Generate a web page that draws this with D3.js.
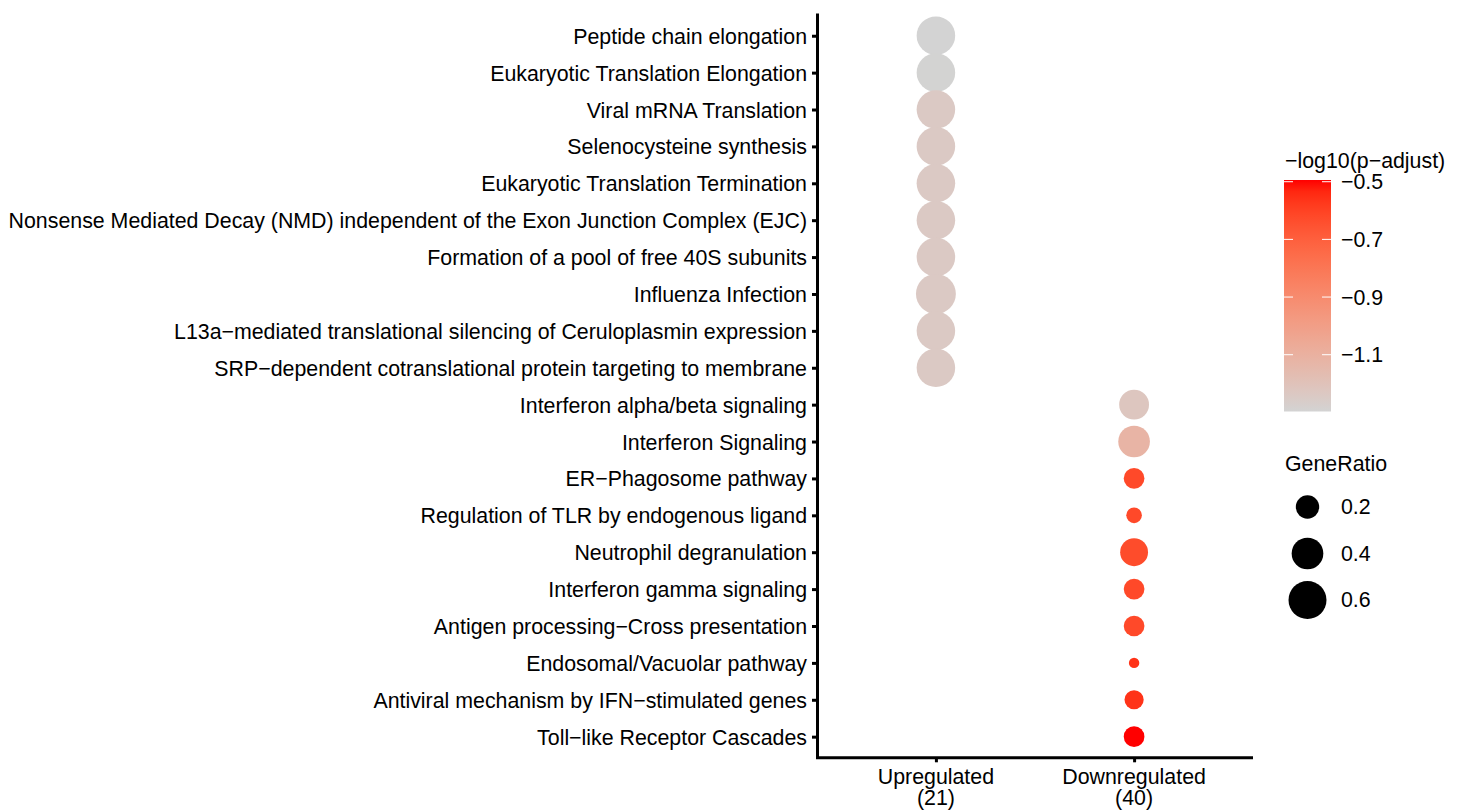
<!DOCTYPE html>
<html>
<head>
<meta charset="utf-8">
<script src="https://cdn.jsdelivr.net/npm/d3@7"></script>
<style>
  html, body { margin: 0; padding: 0; background: #fff; }
  svg text { font-family: "Liberation Sans", Arial, sans-serif; fill: #000; }
</style>
</head>
<body>
<svg id="chart" width="1463" height="810"></svg>
<script>
// Enriched pathways, top to bottom
const pathways = [
  "Peptide chain elongation",
  "Eukaryotic Translation Elongation",
  "Viral mRNA Translation",
  "Selenocysteine synthesis",
  "Eukaryotic Translation Termination",
  "Nonsense Mediated Decay (NMD) independent of the Exon Junction Complex (EJC)",
  "Formation of a pool of free 40S subunits",
  "Influenza Infection",
  "L13a\u2212mediated translational silencing of Ceruloplasmin expression",
  "SRP\u2212dependent cotranslational protein targeting to membrane",
  "Interferon alpha/beta signaling",
  "Interferon Signaling",
  "ER\u2212Phagosome pathway",
  "Regulation of TLR by endogenous ligand",
  "Neutrophil degranulation",
  "Interferon gamma signaling",
  "Antigen processing\u2212Cross presentation",
  "Endosomal/Vacuolar pathway",
  "Antiviral mechanism by IFN\u2212stimulated genes",
  "Toll\u2212like Receptor Cascades"
];
// Group each pathway belongs to
const groups = ["Up","Up","Up","Up","Up","Up","Up","Up","Up","Up",
                "Down","Down","Down","Down","Down","Down","Down","Down","Down","Down"];
const groupKeys = ["Up", "Down"];
const groupLabels = [["Upregulated", "(21)"], ["Downregulated", "(40)"]];
// Gene ratio per pathway
const geneRatio = [0.619, 0.619, 0.619, 0.619, 0.619, 0.619, 0.619, 0.667, 0.619, 0.619,
                   0.35, 0.40, 0.15, 0.075, 0.30, 0.15, 0.15, 0.025, 0.125, 0.15];
// -log10(p-adjust) per pathway
const logP = [-1.297, -1.295, -1.24, -1.24, -1.24, -1.24, -1.24, -1.24, -1.24, -1.24,
              -1.22, -1.12, -0.62, -0.62, -0.63, -0.62, -0.62, -0.56, -0.56, -0.494];
const colorDomain = [-1.297, -0.494];
const colorTicks = [-1.1, -0.9, -0.7, -0.5];
const sizeTicks = [0.2, 0.4, 0.6];

const rows = pathways.map((p, i) => ({ pathway: p, group: groups[i], ratio: geneRatio[i], logP: logP[i] }));

const svg = d3.select("#chart");
const panel = { left: 817, right: 1253, top: 13.6, bottom: 758.8 };
const fontSize = 21.35;
const minus = s => s.replace("-", "\u2212");

// Discrete scales with ggplot-style 0.6 expansion
const y = d3.scalePoint().domain(pathways).range([panel.top, panel.bottom]).padding(0.6);
const x = d3.scalePoint().domain(groupKeys).range([panel.left, panel.right]).padding(0.6);
const r = d3.scaleSqrt().domain([0, 0.6]).range([1.7, 19]);
const color = d3.scaleLinear().domain(colorDomain).range(["#d3d3d3", "#ff0000"])
  .interpolate(d3.interpolateLab).clamp(true);

// Points
svg.append("g").selectAll("circle").data(rows).join("circle")
  .attr("cx", d => x(d.group))
  .attr("cy", d => y(d.pathway))
  .attr("r", d => r(d.ratio))
  .attr("fill", d => color(d.logP));

// Y axis
const yAxis = svg.append("g").attr("transform", `translate(${panel.left},0)`)
  .call(d3.axisLeft(y).tickSize(5).tickPadding(5));
yAxis.select(".domain").attr("d", `M0.5,${panel.top}V${panel.bottom}`).attr("stroke", "#000").attr("stroke-width", 3);
yAxis.selectAll(".tick line").attr("stroke", "#000").attr("stroke-width", 3);
yAxis.selectAll(".tick text").attr("font-size", fontSize).attr("dy", "0.35em")
  .style("font-family", "'Liberation Sans', Arial, sans-serif");

// X axis
const xAxis = svg.append("g").attr("transform", `translate(0,${panel.bottom - 1.5})`)
  .call(d3.axisBottom(x).tickSize(5).tickFormat(""));
xAxis.select(".domain").attr("d", `M${panel.left - 1},0.5H${panel.right}`).attr("stroke", "#000").attr("stroke-width", 3);
xAxis.selectAll(".tick line").attr("stroke", "#000").attr("stroke-width", 3);
groupKeys.forEach((k, i) => {
  const t = svg.append("text").attr("text-anchor", "middle").attr("font-size", fontSize)
    .attr("x", x(k)).attr("y", 783.5);
  t.append("tspan").attr("x", x(k)).text(groupLabels[i][0]);
  t.append("tspan").attr("x", x(k)).attr("dy", 21.5).text(groupLabels[i][1]);
});

// Colour legend
const leg = svg.append("g");
const barX = 1284, barW = 47, barTop = 180, barBottom = 411.5;
leg.append("text").attr("x", 1285).attr("y", 168).attr("font-size", fontSize).text("\u2212log10(p\u2212adjust)");
const cy = d3.scaleLinear().domain(colorDomain).range([barBottom, barTop]);
const defs = svg.append("defs");
const grad = defs.append("linearGradient").attr("id", "cgrad").attr("x1", 0).attr("y1", 1).attr("x2", 0).attr("y2", 0);
d3.range(0, 1.0001, 0.05).forEach(t => {
  grad.append("stop").attr("offset", t)
    .attr("stop-color", color(colorDomain[0] + t * (colorDomain[1] - colorDomain[0])));
});
leg.append("rect").attr("x", barX).attr("y", barTop).attr("width", barW).attr("height", barBottom - barTop)
  .attr("fill", "url(#cgrad)");
colorTicks.forEach(v => {
  const ty = cy(v);
  leg.append("line").attr("x1", barX).attr("x2", barX + 9).attr("y1", ty).attr("y2", ty).attr("stroke", "#fff").attr("stroke-width", 1);
  leg.append("line").attr("x1", barX + barW - 9).attr("x2", barX + barW).attr("y1", ty).attr("y2", ty).attr("stroke", "#fff").attr("stroke-width", 1);
  leg.append("text").attr("x", 1341).attr("y", ty).attr("dy", "0.35em").attr("font-size", fontSize).text(minus(d3.format(".1f")(v)));
});

// Size legend
leg.append("text").attr("x", 1285).attr("y", 471).attr("font-size", fontSize).text("GeneRatio");
const sizeY = [507, 553.5, 600];
sizeTicks.forEach((v, i) => {
  leg.append("circle").attr("cx", 1307.5).attr("cy", sizeY[i]).attr("r", r(v)).attr("fill", "#000");
  leg.append("text").attr("x", 1341).attr("y", sizeY[i]).attr("dy", "0.35em").attr("font-size", fontSize).text(d3.format(".1f")(v));
});
</script>
</body>
</html>
